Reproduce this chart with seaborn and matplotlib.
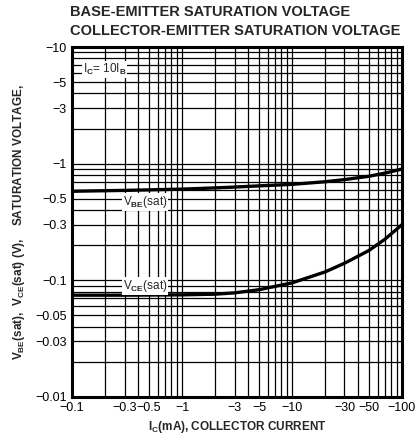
import numpy as np
import pandas as pd
import matplotlib
matplotlib.use("Agg")
import matplotlib.pyplot as plt
import seaborn as sns
from matplotlib.ticker import FixedLocator, LogLocator, NullFormatter

# collector current (mA, magnitude) and saturation voltages (V, magnitude)
ic_ma = [0.1, 0.3, 1.0, 2.0, 3.0, 5.0, 10.0, 20.0, 30.0, 50.0, 70.0, 100.0]
vbe_sat = [0.58, 0.59, 0.605, 0.62, 0.63, 0.645, 0.665, 0.70, 0.73, 0.78, 0.83, 0.90]
vce_sat = [0.0745, 0.0745, 0.075, 0.076, 0.078, 0.083, 0.095, 0.118, 0.14, 0.18, 0.225, 0.30]

x_ticks = [0.1, 0.3, 0.5, 1, 3, 5, 10, 30, 50, 100]
x_labels = ["\u22120.1", "\u22120.3", "\u22120.5", "\u22121", "\u22123", "\u22125",
            "\u221210", "\u221230", "\u221250", "\u2212100"]
y_ticks = [0.01, 0.03, 0.05, 0.1, 0.3, 0.5, 1, 3, 5, 10]
y_labels = ["\u22120.01", "\u22120.03", "\u22120.05", "\u22120.1", "\u22120.3", "\u22120.5",
            "\u22121", "\u22123", "\u22125", "\u221210"]

df = pd.DataFrame({"ic": ic_ma * 2,
                   "v": vbe_sat + vce_sat,
                   "curve": ["VBE"] * len(ic_ma) + ["VCE"] * len(ic_ma)})

sns.set_style("white")
plt.rcParams["font.family"] = ["Liberation Sans", "DejaVu Sans"]
plt.rcParams["mathtext.fontset"] = "custom"
plt.rcParams["mathtext.rm"] = "Liberation Sans:bold"
plt.rcParams["mathtext.it"] = "Liberation Sans:bold"
plt.rcParams["mathtext.bf"] = "Liberation Sans:bold"

fig = plt.figure(figsize=(4.17, 4.40), dpi=100)
ax = fig.add_axes([0.173, 0.098, 0.791, 0.795])

sns.lineplot(data=df, x="ic", y="v", units="curve", estimator=None,
             color="black", lw=2.4, ax=ax)

ax.set_xscale("log")
ax.set_yscale("log")
ax.set_xlim(0.1, 100)
ax.set_ylim(0.01, 10)

ax.xaxis.set_major_locator(FixedLocator(x_ticks))
ax.set_xticklabels(x_labels)
ax.yaxis.set_major_locator(FixedLocator(y_ticks))
ax.set_yticklabels(y_labels)
ax.xaxis.set_minor_locator(LogLocator(base=10, subs=np.arange(1, 10)))
ax.yaxis.set_minor_locator(LogLocator(base=10, subs=np.arange(1, 10)))
ax.xaxis.set_minor_formatter(NullFormatter())
ax.yaxis.set_minor_formatter(NullFormatter())
ax.tick_params(which="both", length=0, labelsize=9, colors="black", pad=4)

ax.grid(which="both", color="black", lw=0.9)
for s in ax.spines.values():
    s.set_color("black")
    s.set_linewidth(2.2)

ax.set_xlabel(r"I$_{\mathrm{C}}$(mA), COLLECTOR CURRENT", fontsize=8.5,
              fontweight="bold", labelpad=3)
ax.set_ylabel(r"V$_{\mathrm{BE}}$(sat),  V$_{\mathrm{CE}}$(sat) (V),    SATURATION VOLTAGE,",
              fontsize=8.5, fontweight="bold", labelpad=6)

box = dict(facecolor="white", edgecolor="none", pad=0.5)
ax.text(0.125, 6.4, r"I$_{\mathrm{C}}$= 10I$_{\mathrm{B}}$", fontsize=8.5, va="center",
        bbox=box)
ax.text(0.29, 0.47, r"V$_{\mathrm{BE}}$(sat)", fontsize=8.5, va="center", bbox=box)
ax.text(0.29, 0.089, r"V$_{\mathrm{CE}}$(sat)", fontsize=8.5, va="center", bbox=box)

fig.text(0.168, 0.972, "BASE-EMITTER SATURATION VOLTAGE", fontsize=10.5,
         fontweight="bold", va="center", ha="left")
fig.text(0.168, 0.930, "COLLECTOR-EMITTER SATURATION VOLTAGE", fontsize=10.5,
         fontweight="bold", va="center", ha="left")

fig.savefig("out.png", dpi=100)
